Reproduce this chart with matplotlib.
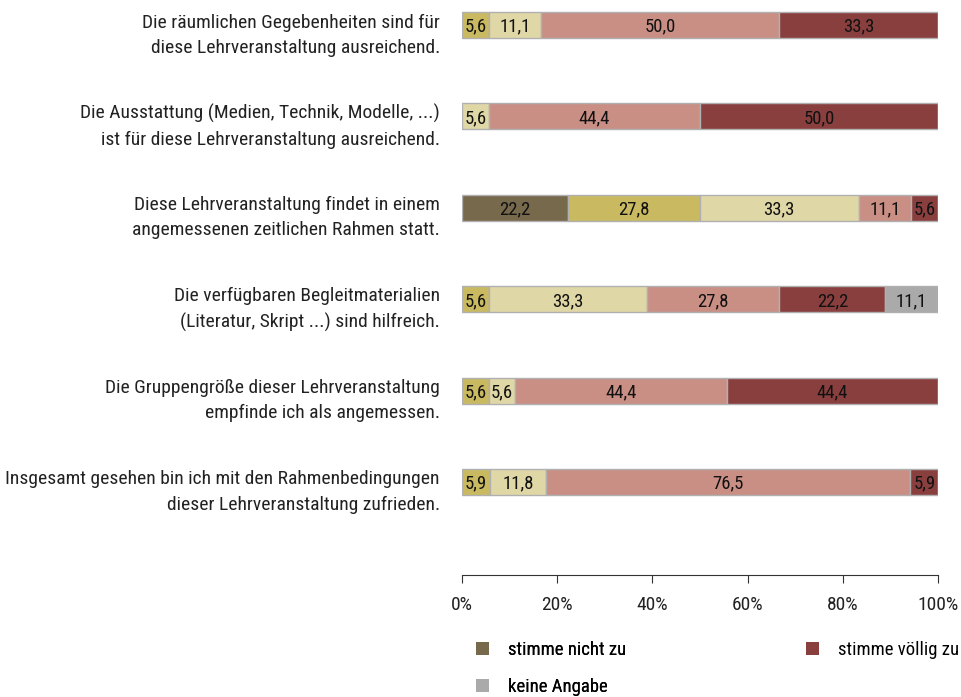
import matplotlib
matplotlib.use("Agg")
import matplotlib.pyplot as plt
import matplotlib.transforms as mtransforms
from matplotlib.patches import Patch
import numpy as np

plt.rcParams['font.family'] = ['Roboto Condensed', 'Archivo Narrow', 'PT Sans Narrow', 'DejaVu Sans']

categories = [
    "Die räumlichen Gegebenheiten sind für\ndiese Lehrveranstaltung ausreichend.",
    "Die Ausstattung (Medien, Technik, Modelle, ...)\nist für diese Lehrveranstaltung ausreichend.",
    "Diese Lehrveranstaltung findet in einem\nangemessenen zeitlichen Rahmen statt.",
    "Die verfügbaren Begleitmaterialien\n(Literatur, Skript ...) sind hilfreich.",
    "Die Gruppengröße dieser Lehrveranstaltung\nempfinde ich als angemessen.",
    "Insgesamt gesehen bin ich mit den Rahmenbedingungen\ndieser Lehrveranstaltung zufrieden.",
]

series_names = ["stimme nicht zu", "stimme eher nicht zu", "teils/teils",
                "stimme eher zu", "stimme völlig zu", "keine Angabe"]

s_nicht = [0, 0, 22.2, 0, 0, 0]
s_eher_nicht = [5.6, 0, 27.8, 5.6, 5.6, 5.9]
s_teils = [11.1, 5.6, 33.3, 33.3, 5.6, 11.8]
s_eher = [50.0, 44.4, 11.1, 27.8, 44.4, 76.5]
s_voellig = [33.3, 50.0, 5.6, 22.2, 44.4, 5.9]
s_keine = [0, 0, 0, 11.1, 0, 0]

series = [s_nicht, s_eher_nicht, s_teils, s_eher, s_voellig, s_keine]
colors = ["#77694c", "#c9b961", "#e0d7a6", "#c98f84", "#8a3f3f", "#aaaaaa"]

xticks = [0, 20, 40, 60, 80, 100]
xticklabels = ["0%", "20%", "40%", "60%", "80%", "100%"]

W, H = 962, 697
fig = plt.figure(figsize=(W / 100, H / 100), dpi=100)
ax = fig.add_axes([462 / W, 1 - 575 / H, (938 - 462) / W, 575 / H])

y = np.arange(len(categories))
left = np.zeros(len(categories))
for name, vals, col in zip(series_names, series, colors):
    vals = np.array(vals, dtype=float)
    ax.barh(y, vals, left=left, height=0.285, color=col,
            edgecolor="#b0b0b0", linewidth=1.0, label=name)
    for yi, (l, v) in enumerate(zip(left, vals)):
        if v > 0:
            ax.text(l + v / 2, yi + 0.02, f"{v:.1f}".replace(".", ","),
                    ha="center", va="center", fontsize=13.5, color="#111111")
    left += vals

ax.set_xlim(0, 100)
ax.set_ylim(5 + (575 - 482) / 91.4, -25 / 91.4)
ax.set_yticks([])
ax.set_xticks(xticks)
ax.set_xticklabels(xticklabels, fontsize=14, color="#222222")
ax.tick_params(axis="x", direction="out", length=6, width=0.8, color="#333333", pad=9)
for s in ["top", "right", "left"]:
    ax.spines[s].set_visible(False)
ax.spines["bottom"].set_color("#333333")
ax.spines["bottom"].set_linewidth(0.8)

offset = mtransforms.ScaledTranslation(-22 / 100, -10 / 100, fig.dpi_scale_trans)
trans = mtransforms.blended_transform_factory(ax.transAxes, ax.transData) + offset
for yi, cat in enumerate(categories):
    ax.text(0, yi, cat, transform=trans, ha="right", va="center",
            fontsize=14, color="#222222", linespacing=1.5, multialignment="right")

handles = {n: Patch(facecolor=c, edgecolor="none") for n, c in zip(series_names, colors)}
leg1 = fig.legend([handles["stimme nicht zu"], handles["keine Angabe"]],
                  ["stimme nicht zu", "keine Angabe"],
                  loc="upper left", bbox_to_anchor=(476 / W, 1 - 641 / H),
                  frameon=False, fontsize=13.5, handlelength=0.72, handleheight=0.72,
                  handletextpad=1.0, labelspacing=1.0, borderpad=0, borderaxespad=0)
leg2 = fig.legend([handles["stimme völlig zu"]], ["stimme völlig zu"],
                  loc="upper left", bbox_to_anchor=(806 / W, 1 - 641 / H),
                  frameon=False, fontsize=13.5, handlelength=0.72, handleheight=0.72,
                  handletextpad=1.0, borderpad=0, borderaxespad=0)
fig.add_artist(leg1)

fig.savefig("out.png", dpi=100)
